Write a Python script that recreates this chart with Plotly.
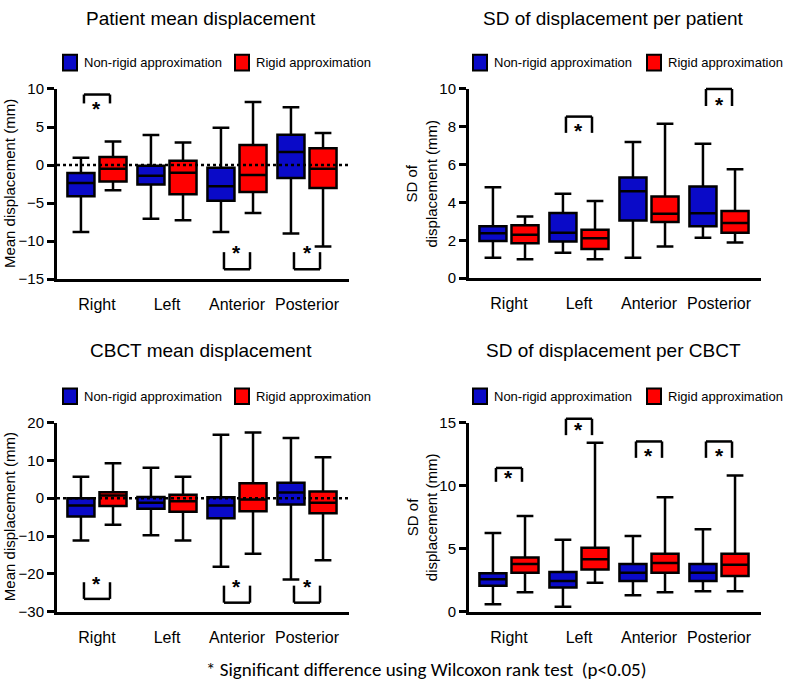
import plotly.graph_objects as go

W, H = 787, 689
FONT = "Liberation Sans, Arial, sans-serif"
BLUE = "#0a0ac8"
RED = "#ff0000"

groups = ["Right", "Left", "Anterior", "Posterior"]
series_names = ["Non-rigid approximation", "Rigid approximation"]

# per panel: [lowerfence, q1, median, q3, upperfence] for each group
p1_nonrigid = [[-8.8, -4.1, -2.35, -1.05, 0.95], [-7.05, -2.55, -1.4, -0.1, 3.95],
               [-8.8, -4.7, -2.8, -0.35, 4.9], [-9.0, -1.7, 1.7, 4.0, 7.6]]
p1_rigid = [[-3.3, -2.15, -0.5, 1.05, 3.1], [-7.25, -3.85, -1.0, 0.55, 2.95],
            [-6.3, -3.55, -1.3, 2.65, 8.3], [-10.7, -3.0, -0.5, 2.2, 4.2]]

p2_nonrigid = [[1.08, 1.97, 2.37, 2.74, 4.8], [1.34, 1.94, 2.4, 3.45, 4.46],
               [1.08, 3.05, 4.6, 5.32, 7.2], [2.14, 2.74, 3.43, 4.84, 7.1]]
p2_rigid = [[1.0, 1.85, 2.3, 2.8, 3.26], [1.0, 1.54, 2.11, 2.56, 4.08],
            [1.68, 2.97, 3.4, 4.32, 8.16], [1.89, 2.4, 2.92, 3.55, 5.76]]

p3_nonrigid = [[-11.15, -4.8, -1.9, 0.0, 5.65], [-9.8, -2.75, -1.2, 0.35, 8.05],
               [-18.1, -5.3, -1.9, 0.25, 16.8], [-21.5, -1.65, 1.5, 4.1, 15.9]]
p3_rigid = [[-7.0, -2.05, 0.7, 1.6, 9.25], [-11.15, -3.6, -0.8, 0.95, 5.65],
            [-14.7, -3.45, -0.35, 3.95, 17.4], [-16.4, -4.0, -1.2, 1.8, 10.8]]

p4_nonrigid = [[0.6, 2.06, 2.57, 3.06, 6.25], [0.4, 1.93, 2.44, 3.16, 5.7],
               [1.3, 2.44, 3.09, 3.78, 6.0], [1.62, 2.44, 3.09, 3.78, 6.55]]
p4_rigid = [[1.54, 3.09, 3.78, 4.3, 7.6], [2.29, 3.34, 4.17, 5.07, 13.4],
            [1.54, 3.09, 3.86, 4.6, 9.08], [1.62, 2.83, 3.73, 4.6, 10.8]]

titles = ["Patient mean displacement", "SD of displacement per patient",
          "CBCT mean displacement", "SD of displacement per CBCT"]
ytitles = ["Mean displacement (mm)", "SD of<br>displacement (mm)",
           "Mean displacement (mm)", "SD of<br>displacement (mm)"]
yranges = [[-15, 10], [0, 10], [-30, 20], [0, 15]]
ydticks = [5, 2, 10, 5]

# significance brackets: (group index, bar y, leg-end y, star y)
p1_sig = [(0, 9.27, 8.1, 7.5), (2, -13.7, -11.45, -11.3), (3, -13.7, -11.45, -11.3)]
p2_sig = [(1, 8.54, 7.68, 7.86), (3, 10.0, 9.1, 9.23)]
p3_sig = [(0, -26.6, -22.2, -22.2), (2, -27.6, -23.1, -23.1), (3, -27.6, -23.1, -23.1)]
p4_sig = [(0, 11.4, 10.3, 10.7), (1, 15.3, 14.0, 14.5), (2, 13.5, 12.2, 12.5), (3, 13.5, 12.2, 12.5)]

footnote = "* Significant difference using Wilcoxon rank test  (p<0.05)"

panels = [
    (p1_nonrigid, p1_rigid, p1_sig, True),
    (p2_nonrigid, p2_rigid, p2_sig, False),
    (p3_nonrigid, p3_rigid, p3_sig, True),
    (p4_nonrigid, p4_rigid, p4_sig, False),
]

# pixel boxes of each plot area (left, right, top, bottom)
areas = [(57, 349, 82, 277), (469, 761, 82, 276), (57, 349, 424, 618), (469, 761, 424, 618)]
XR = [-0.571, 3.6]
OFF = 0.229
BOXW = 0.386
HALF = 0.186


def px(x):
    return x / W


def py(y):
    return 1 - y / H


fig = go.Figure()
shapes = []
annots = []

for i, (nonrigid, rigid, sig, zero) in enumerate(panels):
    n = "" if i == 0 else str(i + 1)
    xa, ya = "x" + n, "y" + n
    l, r, t, b = areas[i]
    for stats, col, sgn in [(nonrigid, BLUE, -1), (rigid, RED, 1)]:
        for g, s in enumerate(stats):
            fig.add_trace(go.Box(
                x=[g + sgn * OFF], lowerfence=[s[0]], q1=[s[1]], median=[s[2]],
                q3=[s[3]], upperfence=[s[4]], width=BOXW, whiskerwidth=0.62,
                fillcolor=col, line=dict(color="black", width=2.5),
                boxpoints=False, showlegend=False, hoverinfo="skip",
                xaxis=xa, yaxis=ya))
    fig.layout["xaxis" + n] = dict(
        domain=[px(l), px(r)], range=XR, anchor=ya, tickvals=[0, 1, 2, 3], ticktext=groups,
        showline=True, linecolor="black", linewidth=3, ticks="outside", ticklen=9,
        tickcolor="rgba(0,0,0,0)", showgrid=False, zeroline=False,
        tickfont=dict(size=16, color="black", family=FONT), fixedrange=True)
    fig.layout["yaxis" + n] = dict(
        domain=[py(b), py(t)], range=yranges[i], dtick=ydticks[i], anchor=xa,
        showline=True, linecolor="black", linewidth=3, ticks="outside", ticklen=7,
        tickwidth=2.5, tickcolor="black", showgrid=False, zeroline=False,
        tickfont=dict(size=15, color="black", family=FONT), fixedrange=True)
    if zero:
        shapes.append(dict(type="line", xref=xa, yref=ya, x0=XR[0], x1=XR[1], y0=0, y1=0,
                           line=dict(color="black", width=2.5, dash="3px,3px")))
    y0, y1 = yranges[i]
    fx = lambda v: (v - XR[0]) / (XR[1] - XR[0])
    fy = lambda v: (v - y0) / (y1 - y0)
    for g, bar, leg, star in sig:
        xl, xr_ = g - HALF, g + HALF
        for (ax, ay, bx, by) in [(xl, bar, xr_, bar), (xl, bar, xl, leg), (xr_, bar, xr_, leg)]:
            shapes.append(dict(type="line", xref=xa + " domain", yref=ya + " domain",
                               x0=fx(ax), x1=fx(bx), y0=fy(ay), y1=fy(by),
                               line=dict(color="black", width=2.5)))
        annots.append(dict(x=g, y=star, xref=xa, yref=ya, text="<b>*</b>", showarrow=False,
                           yshift=-1, font=dict(size=21, color="black", family=FONT)))
    # title
    cx = (l + r) / 2 - 2
    ty = 10 if i < 2 else 350
    annots.append(dict(x=px(cx), y=py(ty), xref="paper", yref="paper", text=titles[i],
                       showarrow=False, xanchor="center", yanchor="middle",
                       font=dict(size=19, color="black", family=FONT)))
    # y axis title
    ytx = 9 if i % 2 == 0 else 422
    annots.append(dict(x=px(ytx), y=py((t + b) / 2), xref="paper", yref="paper",
                       text=ytitles[i], textangle=-90, showarrow=False,
                       xanchor="center", yanchor="middle",
                       font=dict(size=15, color="black", family=FONT)))
    # legend
    ly = 55 if i < 2 else 397
    sx = [l + 6, l + 178] if i % 2 == 0 else [l + 4, l + 178]
    for k, col in enumerate([BLUE, RED]):
        shapes.append(dict(type="rect", xref="paper", yref="paper",
                           x0=px(sx[k]), x1=px(sx[k] + 14),
                           y0=py(ly + 8), y1=py(ly - 8),
                           fillcolor=col, line=dict(color="black", width=2)))
        annots.append(dict(x=px(sx[k] + 19), y=py(ly), xref="paper", yref="paper",
                           text=series_names[k], showarrow=False, xanchor="left",
                           yanchor="middle", font=dict(size=13, color="black", family=FONT)))

annots.append(dict(x=px(427), y=py(677), xref="paper", yref="paper", text=footnote,
                   showarrow=False, xanchor="center", yanchor="middle",
                   font=dict(size=19, color="black", family="Carlito, Lato, sans-serif")))

fig.update_layout(
    width=W, height=H, margin=dict(l=0, r=0, t=0, b=0),
    paper_bgcolor="white", plot_bgcolor="white",
    shapes=shapes, annotations=annots, showlegend=False,
)

# drop the browser's default body margin so the figure sits at the page corner
fig.write_html("out.html", config={"displayModeBar": False},
               post_script="document.body.style.margin='0';")
